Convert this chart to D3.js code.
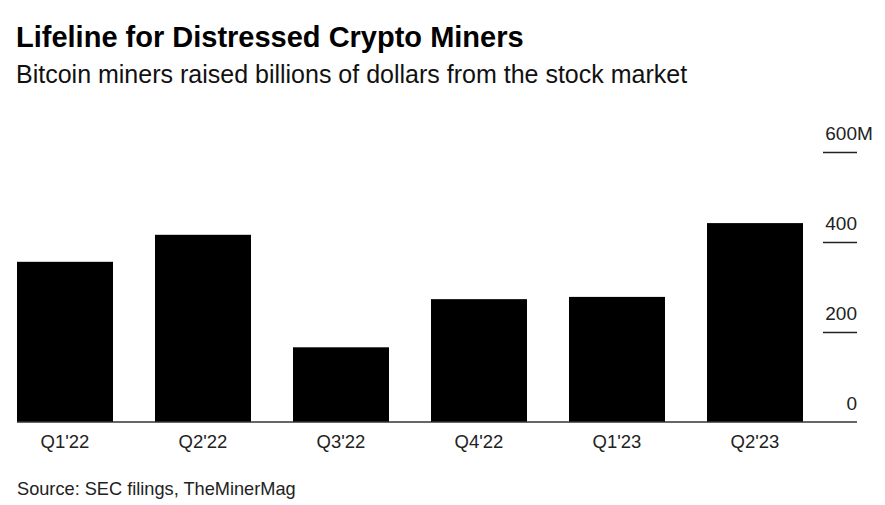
<!DOCTYPE html>
<html><head><meta charset="utf-8">
<script src="https://cdn.jsdelivr.net/npm/d3@7"></script>
<style>
body{margin:0;background:#fff;}
text{font-family:"Liberation Sans",Arial,sans-serif;}
</style></head>
<body><svg id="c" width="885" height="505"></svg>
<script>
const categories = ["Q1'22","Q2'22","Q3'22","Q4'22","Q1'23","Q2'23"];
const values = [356, 416, 166, 273, 278, 442];
const yTicks = [0, 200, 400, 600];
const title = "Lifeline for Distressed Crypto Miners";
const subtitle = "Bitcoin miners raised billions of dollars from the stock market";
const source = "Source: SEC filings, TheMinerMag";

const svg = d3.select("#c");
svg.append("rect").attr("width",885).attr("height",505).attr("fill","#fff");

svg.append("text").attr("x",16).attr("y",47).attr("font-size",29).attr("font-weight","bold").attr("fill","#000").text(title);
svg.append("text").attr("x",16).attr("y",83).attr("font-size",25).attr("fill","#111").text(subtitle);
svg.append("text").attr("x",17).attr("y",495).attr("font-size",18.2).attr("fill","#222").text(source);

const x = d3.scaleBand().domain(categories).range([17, 803]).paddingInner(42/138).paddingOuter(0);
const y = d3.scaleLinear().domain([0, 600]).range([422, 152]);

svg.append("g").selectAll("rect").data(values).join("rect")
  .attr("x",(d,i)=>x(categories[i])).attr("width",x.bandwidth())
  .attr("y",d=>y(d)).attr("height",d=>y(0)-y(d)).attr("fill","#000");

// y axis on right
const yAxis = svg.append("g").attr("transform","translate(857,0)")
  .call(d3.axisLeft(y).tickValues(yTicks).tickSize(34).tickFormat(""));
yAxis.select(".domain").remove();
yAxis.selectAll(".tick text").remove();
yAxis.selectAll(".tick line").attr("stroke","#222").attr("stroke-width",1.5)
  .filter(d=>d===0).remove();

const yLabels = svg.append("g").attr("font-size",19).attr("fill","#222");
yLabels.selectAll("text.num").data(yTicks).join("text").attr("class","num")
  .attr("x",857).attr("y",d=>y(d)-12).attr("text-anchor","end").text(d=>d);
yLabels.append("text").attr("x",857).attr("y",y(d3.max(yTicks))-12)
  .attr("text-anchor","start").text("M");

// baseline
svg.append("line").attr("x1",17).attr("x2",857).attr("y1",y(0)).attr("y2",y(0))
  .attr("stroke","#333").attr("stroke-width",1.5);

// x axis labels
const xAxis = svg.append("g").attr("transform",`translate(0,${y(0)})`)
  .call(d3.axisBottom(x).tickSize(0).tickPadding(0));
xAxis.select(".domain").remove();
xAxis.selectAll(".tick text").attr("dy",null).attr("y",26)
  .attr("font-family","Liberation Sans, Arial, sans-serif")
  .attr("font-size",18.5).attr("fill","#222");
</script></body></html>
